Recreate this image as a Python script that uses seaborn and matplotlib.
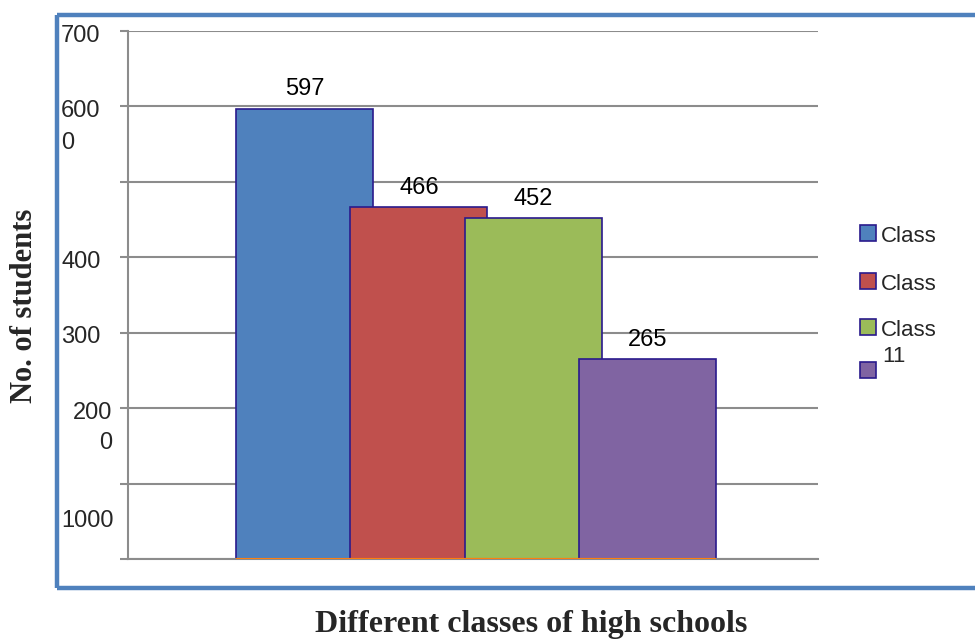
import matplotlib.pyplot as plt
import matplotlib.transforms as mtransforms
import pandas as pd
import seaborn as sns
from matplotlib.lines import Line2D
from matplotlib.patches import Rectangle

sns.set_style("white")
plt.rcParams["font.family"] = ["Liberation Sans", "DejaVu Sans"]

# data
classes = ["Class 9", "Class 10", "Class 11", "Class 12"]
students = [597, 466, 452, 265]
bar_colors = ["#4F81BD", "#C0504D", "#9BBB59", "#8064A2"]

# the odd y tick labels as they appear in the picture
ytick_text = ["700", "600", "400", "300", "200", "1000"]
ytick_value = [700, 600, 400, 300, 200, 57]
ytick_extra = ["", "0", "", "", "0", ""]

legend_text = ["Class", "Class", "Class", ""]

df = pd.DataFrame({"cls": classes, "n": students})

fig = plt.figure(figsize=(9.75, 6.4), dpi=100)
ax = fig.add_axes([0.1313, 0.1266, 0.7077, 0.8250])

sns.barplot(
    data=df, x="cls", y="n", hue="cls", palette=bar_colors,
    width=1.2, saturation=1, legend=False, ax=ax,
    edgecolor="#2A1A8C", linewidth=1.2,
)
# orange bottom edge under the bars
for p in ax.patches:
    ax.plot([p.get_x(), p.get_x() + p.get_width()], [0, 0],
            color="#FF7F0E", lw=1.5, zorder=5, solid_capstyle="butt")

for c in ax.containers:
    ax.bar_label(c, fmt="%d", padding=6, fontsize=17, color="black")

ax.set_xlim(-1.543, 4.49)
ax.set_ylim(0, 700)
ax.set_yticks(range(0, 701, 100))
ax.set_yticklabels([])
ax.set_xticks([])
ax.set_xlabel("")
ax.set_ylabel("")
ax.grid(axis="y", color="#8C8C8C", lw=1.5)
ax.set_axisbelow(True)
ax.tick_params(axis="y", length=6, width=1.5, color="#8C8C8C", left=True)
for side in ["top", "right"]:
    ax.spines[side].set_visible(False)
ax.spines["left"].set_color("#8C8C8C")
ax.spines["left"].set_linewidth(1.5)
ax.spines["bottom"].set_color("#8C8C8C")
ax.spines["bottom"].set_linewidth(1.5)

# tick labels placed like in the picture (a little below their gridline)
trans = mtransforms.blended_transform_factory(fig.transFigure, ax.transData)
for txt, val, extra in zip(ytick_text, ytick_value, ytick_extra):
    y = val - 6
    if txt == "200":
        ax.text(0.1149, y, txt, transform=trans, ha="right", va="center", fontsize=17)
        ax.text(0.1149, y - 40, extra, transform=trans, ha="right", va="center", fontsize=17)
    else:
        ax.text(0.0626, y, txt, transform=trans, ha="left", va="center", fontsize=17)
        if extra:
            ax.text(0.0626, y - 42, extra, transform=trans, ha="left", va="center", fontsize=17)

# legend drawn by hand
leg_y = [233, 281, 327, 370]
for col, lab, yy in zip(bar_colors, legend_text, leg_y):
    y0 = 1 - (yy + 8) / 640
    fig.patches.append(Rectangle((860 / 975, y0), 16 / 975, 16 / 640,
                                 transform=fig.transFigure, facecolor=col,
                                 edgecolor="#2A1A8C", lw=1.2))
    fig.text(881 / 975, 1 - (yy + 3) / 640, lab, ha="left", va="center", fontsize=16)
fig.text(882 / 975, 1 - 357 / 640, "11", ha="left", va="center", fontsize=16)

# blue frame around the chart area
frame = dict(color="#4F81BD", lw=3.2, transform=fig.transFigure, solid_capstyle="butt")
fig.add_artist(Line2D([0.0585, 1.0], [0.9766, 0.9766], **frame))
fig.add_artist(Line2D([0.0585, 1.0], [0.0813, 0.0813], **frame))
fig.add_artist(Line2D([0.0585, 0.0585], [0.0813, 0.9766], **frame))

fig.text(0.0256, 0.522, "No. of students", rotation=90, ha="center", va="center",
         fontsize=22, fontweight="bold", family="Liberation Serif")
fig.text(0.5446, 0.012, "Different classes of high schools", ha="center", va="baseline",
         fontsize=23, fontweight="bold", family="Liberation Serif")

fig.savefig("out.png", dpi=100)
